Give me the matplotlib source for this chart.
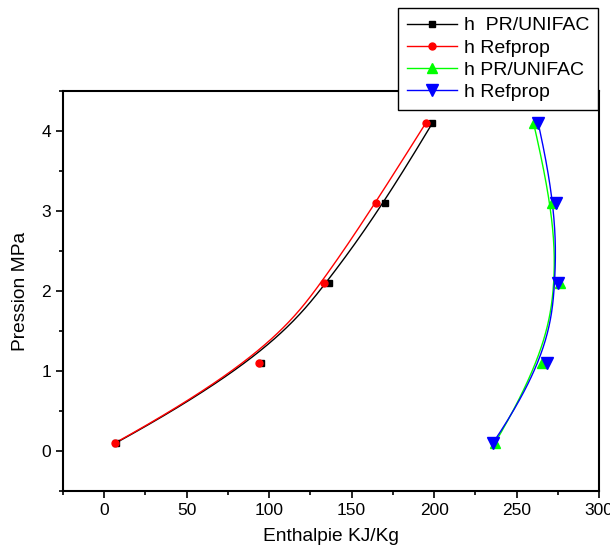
import numpy as np
import matplotlib
matplotlib.use("Agg")
import matplotlib.pyplot as plt

plt.rcParams['font.family'] = ['Liberation Sans', 'DejaVu Sans']

pressure = [0.1, 1.1, 2.1, 3.1, 4.1]
h_pr_liq = [7, 95, 136, 170, 199]
h_ref_liq = [6.5, 94, 133, 164.5, 195]
h_pr_vap = [236.9, 265.4, 276.5, 271.5, 260.3]
h_ref_vap = [235.7, 268.2, 274.9, 273.9, 263.1]

labels = ['h  PR/UNIFAC', 'h Refprop', 'h PR/UNIFAC', 'h Refprop']
colors = ['black', 'red', '#00ff00', 'blue']
markers = ['s', 'o', '^', 'v']
msizes = [4.5, 5, 7, 8]


def bspline(xs, ys, k=3, n=200):
    P = np.column_stack([xs, ys]).astype(float)
    m = len(P)
    k = min(k, m - 1)
    inner = np.linspace(0, 1, m - k + 1)
    t = np.concatenate([np.zeros(k), inner, np.ones(k)])
    u = np.linspace(0, 1, n)
    u[-1] = 1 - 1e-12
    N = np.zeros((n, len(t) - 1))
    for i in range(len(t) - 1):
        N[:, i] = ((u >= t[i]) & (u < t[i + 1])).astype(float)
    for d in range(1, k + 1):
        Nn = np.zeros((n, len(t) - 1 - d))
        for i in range(len(t) - 1 - d):
            den1 = t[i + d] - t[i]
            den2 = t[i + d + 1] - t[i + 1]
            term = np.zeros(n)
            if den1 > 0:
                term += (u - t[i]) / den1 * N[:, i]
            if den2 > 0:
                term += (t[i + d + 1] - u) / den2 * N[:, i + 1]
            Nn[:, i] = term
        N = Nn
    C = N @ P
    return C[:, 0], C[:, 1]


fig = plt.figure(figsize=(6.1, 5.52), dpi=100)
ax = fig.add_axes([63 / 610, 1 - 491 / 552, (599 - 63) / 610, (491 - 91) / 552])

series = [h_pr_liq, h_ref_liq, h_pr_vap, h_ref_vap]
for hs, lab, c, mk, ms in zip(series, labels, colors, markers, msizes):
    cx, cy = bspline(hs, pressure)
    ax.plot(cx, cy, color=c, lw=1.0, zorder=2)
    ax.plot(hs, pressure, linestyle='none', marker=mk, color=c, ms=ms, zorder=3)
    ax.plot([], [], color=c, lw=1.0, marker=mk, ms=ms, label=lab)

ax.set_xlim(-25, 300)
ax.set_ylim(-0.5, 4.5)
ax.set_xticks(np.arange(0, 301, 50))
ax.set_xticks(np.arange(-25, 301, 25), minor=True)
ax.set_yticks(np.arange(0, 5, 1))
ax.set_yticks(np.arange(-0.5, 4.6, 0.5), minor=True)
ax.tick_params(which='both', direction='out', width=1.2, labelsize=12.5, colors='black')
ax.tick_params(which='major', length=5)
ax.tick_params(which='minor', length=3)
ax.tick_params(top=False, right=False, which='both')
for s in ax.spines.values():
    s.set_linewidth(1.5)

ax.set_xlabel('Enthalpie KJ/Kg', fontsize=13.8, labelpad=7)
ax.set_ylabel('Pression MPa', fontsize=13.8, labelpad=9)

leg = fig.legend(loc='upper right', bbox_to_anchor=(598 / 610, 1 - 8 / 552),
                 fontsize=14, frameon=True, fancybox=False, framealpha=1,
                 edgecolor='black', borderpad=0.45, labelspacing=0.24,
                 handlelength=2.6, handletextpad=0.35, borderaxespad=0)
leg.get_frame().set_linewidth(1.0)

fig.savefig('out.png', dpi=100)
